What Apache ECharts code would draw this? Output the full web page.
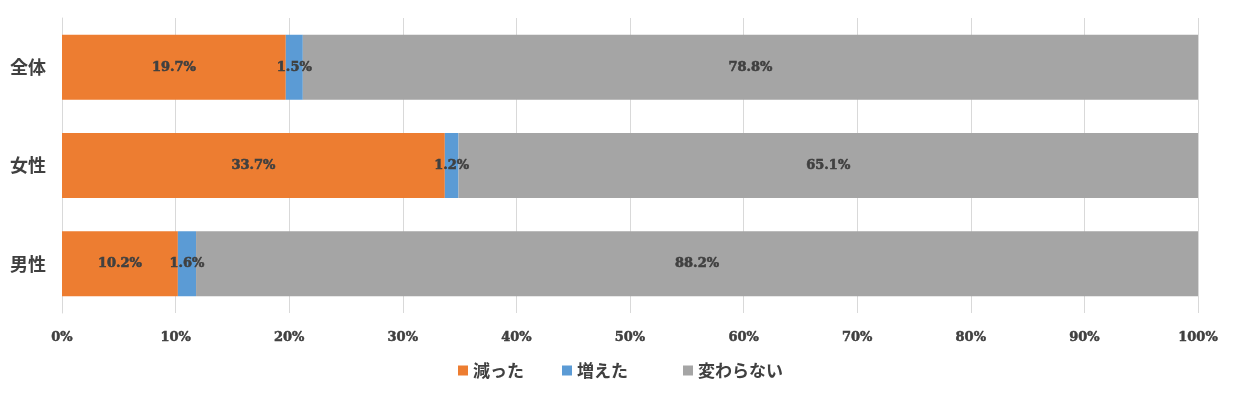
<!DOCTYPE html>
<html><head><meta charset="utf-8">
<script src="https://cdn.jsdelivr.net/npm/echarts@6/dist/echarts.min.js"></script>
<style>html,body{margin:0;padding:0;background:#fff}#c{width:1236px;height:398px}</style>
</head><body><div id="c"></div>
<script>
const categories = ['全体', '女性', '男性'];
const decreased = [19.7, 33.7, 10.2];
const increased = [1.5, 1.2, 1.6];
const unchanged = [78.8, 65.1, 88.2];
const seriesNames = ['減った', '増えた', '変わらない'];
const colors = ['#ed7d31', '#5b9bd5', '#a5a5a5'];

const numFont = '"DejaVu Serif", "Liberation Serif", serif';
const jpFont = '"Noto Sans CJK JP", sans-serif';
const txt = '#404040';

const chart = echarts.init(document.getElementById('c'));
const label = {
  show: true, position: 'inside', color: txt, fontFamily: numFont,
  fontWeight: 'bold', fontSize: 13, textBorderColor: txt, textBorderWidth: 0.6,
  formatter: p => p.value.toFixed(1) + '%'
};
const mk = (name, data, color) => ({
  name, type: 'bar', stack: 'a', data, barWidth: 65,
  itemStyle: { color }, label
});
const legendLefts = [453, 557, 678];
chart.setOption({
  animation: false,
  textStyle: { fontFamily: jpFont },
  grid: { left: 62, right: 38, top: 18, bottom: 85, containLabel: false },
  legend: seriesNames.map((n, i) => ({
    left: legendLefts[i], top: 357, itemWidth: 10, itemHeight: 10,
    icon: 'rect', selectedMode: false,
    textStyle: { color: txt, fontSize: 17, fontWeight: 'bold', fontFamily: jpFont },
    data: [n]
  })),
  xAxis: {
    type: 'value', min: 0, max: 100, interval: 10,
    axisLine: { show: false }, axisTick: { show: false },
    splitLine: { lineStyle: { color: '#d9d9d9' } },
    axisLabel: { formatter: '{value}%', color: txt, fontFamily: numFont, fontWeight: 'bold', fontSize: 13,
      textBorderColor: txt, textBorderWidth: 0.5, margin: 18 }
  },
  yAxis: {
    type: 'category', data: categories, inverse: true,
    axisLine: { lineStyle: { color: '#d9d9d9' } }, axisTick: { show: false },
    axisLabel: { color: txt, fontSize: 18, fontWeight: 'bold', fontFamily: jpFont, margin: 16 }
  },
  series: [
    mk(seriesNames[0], decreased, colors[0]),
    mk(seriesNames[1], increased, colors[1]),
    mk(seriesNames[2], unchanged, colors[2])
  ]
});
</script></body></html>
